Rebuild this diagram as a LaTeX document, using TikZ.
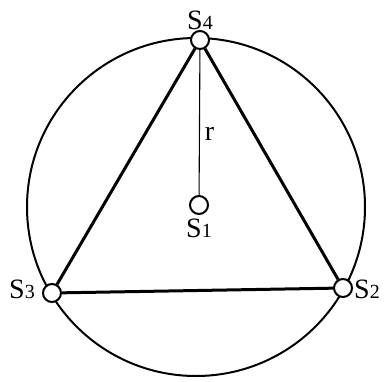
\documentclass[tikz,border=0pt]{standalone}
\usepackage{fontspec}
\setmainfont{Liberation Serif}
\usetikzlibrary{positioning}
\newcommand{\slab}[1]{{\fontsize{28}{28}\selectfont S}{\fontsize{20}{20}\selectfont #1}}
\tikzset{
  site/.style={draw,circle,fill=white,line width=2pt,minimum size=18pt,inner sep=0pt},
  lbl/.style={inner sep=0pt},
  tri/.style={line width=3pt},
}
\begin{document}
\begin{tikzpicture}[x=1pt,y=1pt]
\useasboundingbox (0,0) rectangle (388,381);
\draw[line width=2pt] (196,174) circle (169);
\node[site] (s4) at (200,341) {};
\node[site] (s3) at (52,88) {};
\node[site] (s2) at (343,93) {};
\node[site] (s1) at (199,176) {};
\draw[tri] (s4)--(s2)--(s3)--(s4);
\draw[line width=1.1pt] (s4)-- node[right=5pt,pos=0.58,lbl,font=\fontsize{28}{28}\selectfont] (r) {r} (s1);
\node[above=0pt of s4,lbl] (l4) {\slab{4}};
\node[left=7pt of s3,lbl,yshift=4pt] (l3) {\slab{3}};
\node[right=1pt of s2,lbl,yshift=-1pt] (l2) {\slab{2}};
\node[below=4pt of s1,lbl] (l1) {\slab{1}};
\end{tikzpicture}
\end{document}
